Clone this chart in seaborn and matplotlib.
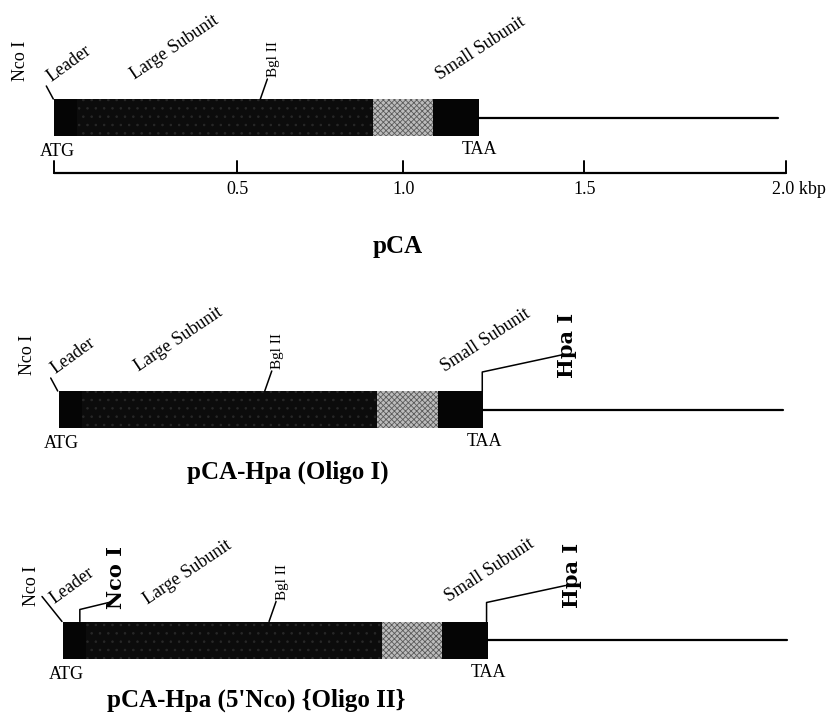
import matplotlib
matplotlib.use("Agg")
import matplotlib.pyplot as plt
import seaborn as sns
import pandas as pd

# ---------------- data (kbp) ----------------
constructs = ["pCA", "pCA-Hpa (Oligo I)", "pCA-Hpa (5'Nco) {Oligo II}"]
segment_names = ["Leader", "Large Subunit", "Spacer", "Small Subunit"]
segment_start = [0.000, 0.063, 0.871, 1.036]
segment_end = [0.063, 0.871, 1.036, 1.160]
plasmid_end = 1.978
bgl_site = 0.563
hpa_site = 1.160
nco_new_site = 0.046
ruler_ticks = [0.0, 0.5, 0.954, 1.448, 2.0]
ruler_labels = ["", "0.5", "1.0", "1.5", "2.0 kbp"]

# ---------------- layout ----------------
W, H = 834, 716
ORIGIN = 54.3      # pixel of 0 kbp (panel 1)
SCALE = 366.0      # pixels per kbp
row_center = [117.5, 409.5, 640.0]
row_shift_px = [0.0, 4.4, 8.7]
BAR_H = 37

sns.set_theme(style="white")
plt.rcParams["font.family"] = ["Liberation Serif", "DejaVu Serif"]
plt.rcParams["text.color"] = "black"
plt.rcParams["hatch.linewidth"] = 0.6

fig = plt.figure(figsize=(W / 100, H / 100), dpi=100)
ax = fig.add_axes([0, 0, 1, 1])
ax.set_xlim(-ORIGIN / SCALE, (W - ORIGIN) / SCALE)
ax.set_ylim(H, 0)
ax.axis("off")


def kx(px):
    return (px - ORIGIN) / SCALE


seg_df = pd.DataFrame({"name": segment_names, "start": segment_start, "end": segment_end})
styles = {
    "Leader": dict(color="#050505", hatch=None, edge="#050505"),
    "Large Subunit": dict(color="#0c0c0c", hatch="..", edge="#282828"),
    "Spacer": dict(color="#bcbcbc", hatch="xxxxxx", edge="#5a5a5a"),
    "Small Subunit": dict(color="#050505", hatch=None, edge="#050505"),
}

lab_fs = 13
txt_kw = dict(fontsize=lab_fs, color="black")

for i, name in enumerate(constructs):
    off = row_shift_px[i] / SCALE
    yc = row_center[i]
    for _, r in seg_df.iterrows():
        st = styles[r["name"]]
        ax.barh(yc, r["end"] - r["start"], left=r["start"] + off, height=BAR_H,
                color=st["color"], hatch=st["hatch"], edgecolor=st["edge"], linewidth=0)
    # plasmid backbone
    sns.lineplot(x=[segment_end[-1] + off, plasmid_end + off], y=[yc, yc], ax=ax,
                 color="black", linewidth=1.6, legend=False)

    x0 = ORIGIN + row_shift_px[i]          # pixel of 0 kbp in this row
    top = yc - BAR_H / 2
    bot = yc + BAR_H / 2

    # Nco I at ATG
    ax.text(kx(x0 - 34 + (3 if i else 0)), top - 38 + (0 if i == 0 else 2), "Nco I", rotation=90,
            ha="center", va="center", **txt_kw)
    if i < 2:
        ax.plot([kx(x0 - 8), kx(x0 - 1)], [top - 13, top], color="black", lw=1.1)
    else:
        ax.plot([kx(x0 - 21), kx(x0 - 1)], [top - 25, top], color="black", lw=1.1)
    # Leader
    ax.text(kx(x0 - 3) if i < 2 else kx(x0 - 8), top - 17 + (0 if i < 2 else -1), "Leader",
            rotation=36, rotation_mode="anchor", ha="left", va="baseline", **txt_kw)
    # Large Subunit
    ax.text(kx(x0 + 80 + (0 if i < 2 else 5)), top - 19 + (0 if i < 2 else 2), "Large Subunit",
            rotation=34, rotation_mode="anchor", ha="left", va="baseline", **txt_kw)
    # Bgl II
    bx = x0 + bgl_site * SCALE
    ax.plot([kx(bx), kx(bx + 7)], [top, top - 20], color="black", lw=1.1)
    ax.text(kx(bx + 13), top - 40, "Bgl II", rotation=90, ha="center", va="center",
            fontsize=11, color="black")
    # Small Subunit
    ax.text(kx(x0 + 386), top - 19, "Small Subunit", rotation=33,
            rotation_mode="anchor", ha="left", va="baseline", **txt_kw)
    # ATG / TAA
    ax.text(kx(x0 + 3), bot + 16, "ATG", ha="center", va="center", **txt_kw)
    ax.text(kx(x0 + segment_end[-1] * SCALE + 1), bot + 14, "TAA", ha="center", va="center", **txt_kw)

    if i >= 1:
        hx = x0 + hpa_site * SCALE
        ax.plot([kx(hx - 1), kx(hx - 1), kx(hx + 78)], [top, top - 19, top - 36],
                color="black", lw=1.1)
        ax.text(kx(hx + 84), top - 46, "Hpa I", rotation=90, ha="center", va="center",
                fontsize=15, fontweight="bold", family="DejaVu Serif", color="black")
    if i == 2:
        nx = x0 + nco_new_site * SCALE
        ax.plot([kx(nx), kx(nx), kx(nx + 33)], [top, top - 12, top - 20],
                color="black", lw=1.1)
        ax.text(kx(nx + 36), top - 44, "Nco I", rotation=90, ha="center", va="center",
                fontsize=15, fontweight="bold", family="DejaVu Serif", color="black")

# ruler (panel 1)
ry = 173
sns.lineplot(x=[ruler_ticks[0], ruler_ticks[-1]], y=[ry, ry], ax=ax, color="black",
             linewidth=1.6, legend=False)
for t, lab in zip(ruler_ticks, ruler_labels):
    ax.plot([t, t], [ry, ry - 12], color="black", lw=1.4)
    if not lab:
        continue
    if lab.endswith("kbp"):
        ax.text(t - 14 / SCALE, ry + 17, lab, ha="left", va="center", fontsize=13, color="black")
    else:
        ax.text(t, ry + 17, lab, ha="center", va="center", fontsize=13, color="black")

# titles
title_pos = [(398, 246), (288, 472), (256, 700)]
for name, (tx, ty) in zip(constructs, title_pos):
    ax.text(kx(tx), ty, name, ha="center", va="center", fontsize=18, fontweight="bold",
            color="black")

fig.savefig("out.png", dpi=100, facecolor="white")
